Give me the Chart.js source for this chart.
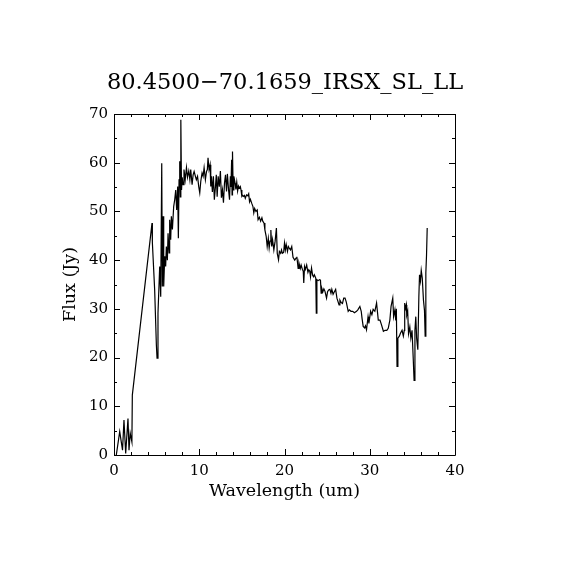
<!DOCTYPE html>
<html>
<head>
<meta charset="utf-8">
<script src="https://cdn.jsdelivr.net/npm/chart.js@4/dist/chart.umd.min.js"></script>
<style>
html,body{margin:0;padding:0;background:#fff;}
#wrap{width:570px;height:570px;}
</style>
</head>
<body>
<div id="wrap"><canvas id="c" width="570" height="570"></canvas></div>
<script>
const chartTitle = "80.4500\u221270.1659_IRSX_SL_LL";
const xLabel = "Wavelength (um)";
const yLabel = "Flux (Jy)";
const xTicks = [0, 10, 20, 30, 40];
const yTicks = [0, 10, 20, 30, 40, 50, 60, 70];

const wavelength = [
0.27,0.67,1.0,1.17,1.37,1.64,1.76,1.9,2.1,2.15,
4.46,4.5,4.77,4.97,5.05,5.16,5.36,5.48,5.6,5.67,
5.75,5.83,5.95,6.06,6.14,6.26,6.34,6.46,6.53,6.65,
6.73,6.85,7.0,7.12,7.24,7.35,7.47,7.55,7.63,7.71,
7.78,7.84,7.92,8.0,8.1,8.21,8.35,8.5,8.62,8.77,
8.9,9.0,9.16,9.28,9.4,9.55,9.66,9.8,9.94,10.06,
10.18,10.33,10.45,10.57,10.72,10.85,10.95,11.03,11.15,11.27,
11.35,11.43,11.54,11.66,11.77,11.9,12.0,12.1,12.22,12.35,
12.48,12.6,12.72,12.84,12.96,13.08,13.2,13.3,13.44,13.55,
13.65,13.72,13.8,13.85,13.9,13.98,14.06,14.2,14.3,14.4,
14.5,14.6,14.7,14.82,14.9,15.0,15.1,15.2,15.3,15.4,
15.55,15.7,15.8,15.9,16.0,16.15,16.3,16.4,16.5,16.65,
16.8,16.9,17.05,17.2,17.35,17.45,17.6,17.7,17.85,17.97,
18.1,18.2,18.3,18.4,18.5,18.6,18.75,18.9,19.05,19.15,
19.3,19.4,19.55,19.65,19.75,19.9,20.0,20.1,20.2,20.35,
20.45,20.55,20.7,20.85,21.0,21.2,21.35,21.45,21.6,21.7,
21.85,21.95,22.1,22.2,22.26,22.35,22.45,22.6,22.75,22.85,
22.97,23.05,23.17,23.3,23.4,23.5,23.67,23.73,23.8,23.95,
24.1,24.22,24.3,24.38,24.5,24.62,24.75,24.93,25.05,25.18,
25.32,25.45,25.55,25.7,25.85,26.0,26.15,26.4,26.5,26.65,
26.8,26.95,27.1,27.25,27.47,27.6,27.8,28.0,28.2,28.45,
28.6,28.84,29.0,29.1,29.23,29.4,29.5,29.62,29.8,29.9,
30.1,30.25,30.4,30.6,30.8,31.0,31.2,31.38,31.6,31.8,
32.0,32.17,32.36,32.5,32.7,32.8,32.95,33.05,33.12,33.2,
33.3,33.47,33.6,33.79,33.94,34.05,34.1,34.22,34.3,34.34,
34.45,34.55,34.7,34.82,34.96,35.1,35.2,35.3,35.4,35.5,
35.64,35.76,35.84,35.95,36.04,36.16,36.3,36.42,36.5,36.58,
36.66,36.74
];
const flux = [
0,4.8,1,7.2,0.3,7.5,1,4.5,2.7,12.3,
47.6,43.6,33.9,22.6,19.9,29.1,38.7,32.5,59.9,34.6,
49,34.6,40.8,38.7,42.8,40,45.5,41.5,48.3,44.2,
49,46.3,51,52.4,54.4,50.3,55.1,44.5,56.5,60.3,
53,68.8,54.4,57,55.5,58.6,56.5,59,57,58.3,
56.5,58.6,55.5,57.5,58.2,57.2,56.5,57.2,55.1,53.8,
56.2,57.9,57.2,59,56.5,58.2,58.6,61,58.6,59.6,
55.1,57.2,54,57.2,52.4,55.1,57.5,53,57.2,55.1,
58.3,52.8,54.4,51.8,55.8,57.5,54.1,57.7,54.4,52.4,
57.2,55,60.6,53.4,62.3,54.4,57.2,55.8,54.5,56.0,
54.2,55.2,54.8,55.1,54.4,53.1,53.3,53.1,53.3,52.7,
53.4,53.2,53.6,52.0,52.5,51.7,51.0,49.7,50.6,50.0,
50.3,48.3,48.8,48.0,48.7,48.0,47.6,46.2,44.9,42.8,
44.5,42.5,43.9,46.2,42.8,44.2,42.1,43.9,46.6,41.4,
40.1,41.8,41.4,42.1,41.4,41.6,43.5,42.1,43.2,41.8,
42.8,42.5,42.1,42.8,40.6,40.0,40.4,40.7,38.3,39.4,
38.3,39.0,38.1,37.7,35.3,38.7,38.1,39.0,37.5,38.0,
37.7,36.6,38.4,36.9,36.6,37.0,36.3,29.1,36.0,35.8,
36.0,35.9,33.2,34.2,33.5,34.1,33.6,32.2,33.5,33.9,
34.0,33.2,34.0,33.0,33.5,34.0,32.2,30.8,31.8,31.3,
31.1,32.2,32.2,31.4,29.5,29.8,29.5,29.5,29.2,29.5,
29.8,30.5,29.5,28.0,26.4,26.1,26.5,25.7,28.4,27.0,
29.5,28.8,29.9,29.5,31.2,27.7,27.7,26.7,25.4,25.6,
25.6,26.0,27.7,30.5,32.2,28.4,29.8,27.6,30.0,18.2,
24,24.4,25,25.6,24.4,25.6,31.2,30.1,30.8,28.7,
29.5,24.9,26.3,24,25.6,19.8,15.3,25.6,28.4,24,
21.6,32.5,37,35.7,37.9,36.3,31.8,29.7,24.4,37.4,
41,46.6
];

const points = wavelength.map((w, i) => ({x: w, y: flux[i]}));
const FONT = "'DejaVu Serif', 'Liberation Serif', serif";

const frameTicks = {
  id: 'frameTicks',
  afterDraw(chart) {
    const ctx = chart.ctx;
    const a = chart.chartArea;
    const xs = chart.scales.x, ys = chart.scales.y;
    ctx.save();
    ctx.strokeStyle = '#000';
    ctx.lineWidth = 1;
    ctx.beginPath();
    ctx.rect(Math.round(a.left) + 0.5, Math.round(a.top) + 0.5, Math.round(a.right - a.left), Math.round(a.bottom - a.top));
    ctx.stroke();
    ctx.beginPath();
    for (let v = xs.min; v <= xs.max + 1e-9; v += 2) {
      const len = (Math.abs(v % 10) < 1e-9) ? 6 : 3;
      const px = Math.round(xs.getPixelForValue(v)) + 0.5;
      ctx.moveTo(px, a.bottom); ctx.lineTo(px, a.bottom - len);
      ctx.moveTo(px, a.top); ctx.lineTo(px, a.top + len);
    }
    for (let v = ys.min; v <= ys.max + 1e-9; v += 5) {
      const len = (Math.abs(v % 10) < 1e-9) ? 6 : 3;
      const py = Math.round(ys.getPixelForValue(v)) + 0.5;
      ctx.moveTo(a.left, py); ctx.lineTo(a.left + len, py);
      ctx.moveTo(a.right, py); ctx.lineTo(a.right - len, py);
    }
    ctx.stroke();
    ctx.restore();
  }
};

new Chart(document.getElementById('c'), {
  type: 'scatter',
  data: {
    datasets: [{
      data: points,
      showLine: true,
      borderColor: '#000',
      borderWidth: 1.2,
      pointRadius: 0,
      tension: 0,
      fill: false
    }]
  },
  options: {
    responsive: false,
    animation: false,
    devicePixelRatio: 1,
    layout: {padding: 0},
    plugins: {
      legend: {display: false},
      tooltip: {enabled: false},
      title: {
        display: true,
        text: chartTitle,
        color: '#000',
        font: {family: FONT, size: 22.5, weight: 'normal', lineHeight: 1.2},
        padding: {top: 69.5, bottom: 17.5}
      }
    },
    scales: {
      x: {
        type: 'linear',
        position: 'bottom',
        min: 0, max: 40,
        afterBuildTicks: s => { s.ticks = xTicks.map(v => ({value: v})); },
        afterFit: s => { s.height = 115; },
        grid: {display: false, drawTicks: false},
        border: {display: false},
        ticks: {color: '#000', padding: 7, maxRotation: 0, font: {family: FONT, size: 15}},
        title: {display: true, text: xLabel, color: '#000', font: {family: FONT, size: 17.5, lineHeight: 1.2}, padding: {top: 0, bottom: 68.5}}
      },
      y: {
        type: 'linear',
        position: 'left',
        min: 0, max: 70,
        afterBuildTicks: s => { s.ticks = yTicks.map(v => ({value: v})); },
        afterFit: s => { s.width = 114; },
        grid: {display: false, drawTicks: false},
        border: {display: false},
        ticks: {color: '#000', padding: 6, font: {family: FONT, size: 15}},
        title: {display: true, text: yLabel, color: '#000', font: {family: FONT, size: 17.5, lineHeight: 1.2}, padding: {top: 60, bottom: 0}}
      },
      yR: {
        type: 'linear',
        position: 'right',
        display: true,
        min: 0, max: 1,
        afterFit: s => { s.width = 115; },
        grid: {display: false, drawTicks: false},
        border: {display: false},
        ticks: {display: false}
      }
    }
  },
  plugins: [frameTicks]
});
</script>
</body>
</html>
